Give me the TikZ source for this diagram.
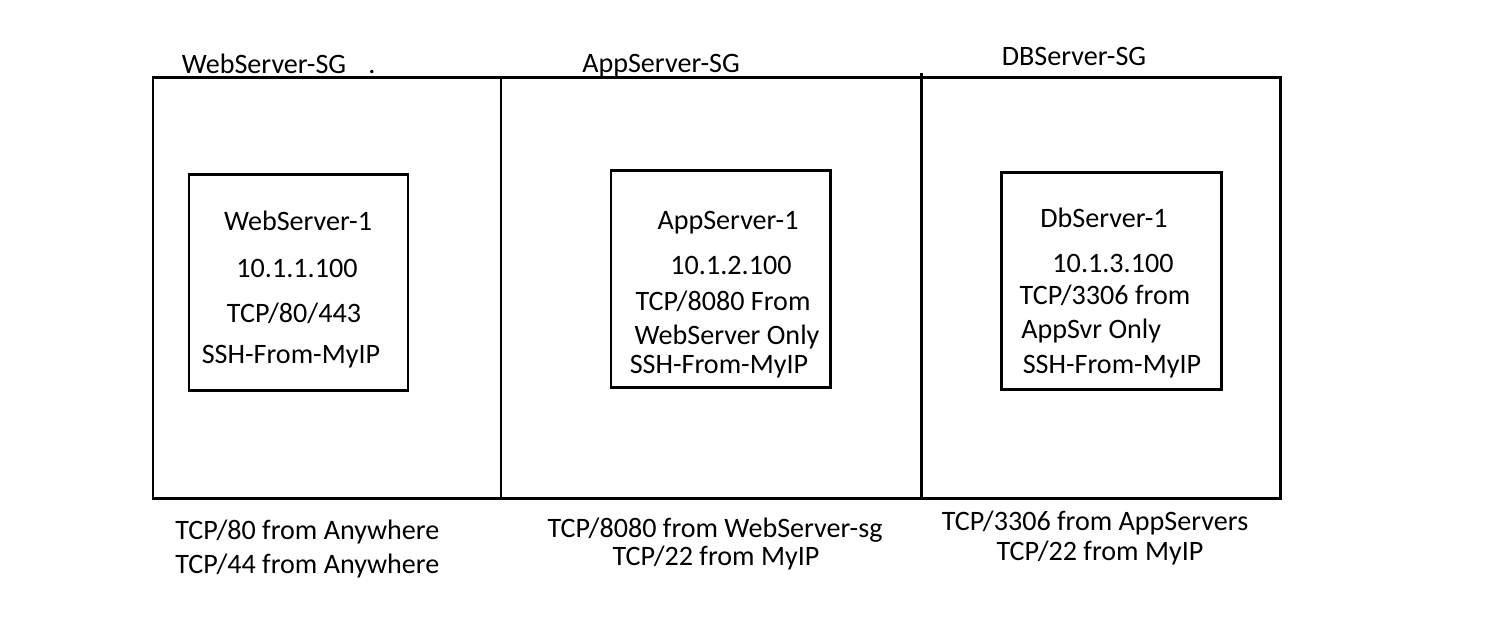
\documentclass[tikz,border=0pt]{standalone}
\usepackage{fontspec}
\setmainfont{Carlito}
\usetikzlibrary{positioning}
\tikzset{
  sgline/.style={draw=black, line width=1.7pt},
  hostbox/.style={draw=black, line width=1.7pt},
  lbl/.style={font=\fontsize{16}{19}\selectfont, inner sep=0pt, anchor=base},
}

\begin{document}
\begin{tikzpicture}[x=0.02cm, y=-0.02cm]
  \useasboundingbox (0,0) rectangle (1485,627);

  % security groups
  \draw[sgline] (153,77) rectangle (1280,498);
  \draw[sgline] (501,77) -- (501,498);
  \draw[sgline] (921,73) -- (921,498);
  \node[lbl] (websg) at (264,73) {WebServer-SG};
  \node[lbl] (websgdot) at (372,73) {.};
  \node[lbl] (appsg) at (661,72) {AppServer-SG};
  \node[lbl] (dbsg) at (1074,65) {DBServer-SG};

  % web server
  \draw[hostbox] (189,174) rectangle (408,390);
  \node[lbl] (web1) at (298,230) {WebServer-1};
  \node[lbl] (webip) at (297,277) {10.1.1.100};
  \node[lbl] (webport) at (294,322) {TCP/80/443};
  \node[lbl] (webssh) at (291,363) {SSH-From-MyIP};

  % app server
  \draw[hostbox] (611,170) rectangle (830,387);
  \node[lbl] (app1) at (728,229) {AppServer-1};
  \node[lbl] (appip) at (731,274) {10.1.2.100};
  \node[lbl] (appport) at (723,310) {TCP/8080 From};
  \node[lbl] (appfrom) at (727,344) {WebServer Only};
  \node[lbl] (appssh) at (719,373) {SSH-From-MyIP};

  % db server
  \draw[hostbox] (1001,172) rectangle (1221,389);
  \node[lbl] (db1) at (1104,227) {DbServer-1};
  \node[lbl] (dbip) at (1113,272) {10.1.3.100};
  \node[lbl] (dbport) at (1105,304) {TCP/3306 from};
  \node[lbl, anchor=base west] (dbfrom) at (1021,338) {AppSvr Only};
  \node[lbl] (dbssh) at (1112,373) {SSH-From-MyIP};

  % inbound rules
  \node[lbl, anchor=base west] (webrule1) at (175,539) {TCP/80 from Anywhere};
  \node[lbl, anchor=base west] (webrule2) at (175,573) {TCP/44 from Anywhere};
  \node[lbl] (apprule1) at (715,537) {TCP/8080 from WebServer-sg};
  \node[lbl] (apprule2) at (716,565) {TCP/22 from MyIP};
  \node[lbl] (dbrule1) at (1095,530) {TCP/3306 from AppServers};
  \node[lbl] (dbrule2) at (1100,560) {TCP/22 from MyIP};
\end{tikzpicture}
\end{document}
